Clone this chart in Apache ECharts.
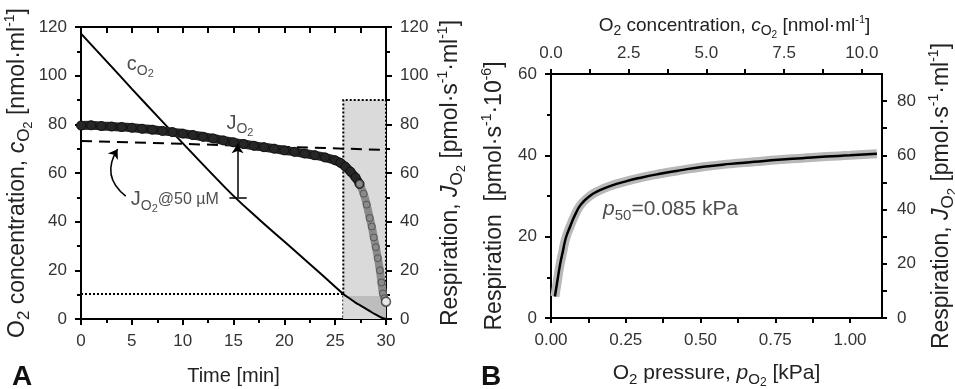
<!DOCTYPE html>
<html>
<head>
<meta charset="utf-8">
<script src="https://cdn.jsdelivr.net/npm/echarts@6/dist/echarts.min.js"></script>
<style>
html, body { margin: 0; padding: 0; background: #fff; }
#main { width: 955px; height: 389px; }
</style>
</head>
<body>
<div id="main"></div>
<script>
var FONT = '"Liberation Sans", Arial, sans-serif';

// panel A: O2 concentration (left axis) and respiration (right axis) vs time
var timeC = [0, 2.5, 5, 7.5, 10, 12.5, 15, 17.5, 20, 22.5, 25, 25.8, 26.5, 27, 27.5, 28, 28.5, 29, 29.5, 29.8, 30];
var cO2 = [117.3, 106, 94.6, 83.4, 72.3, 61.3, 50.6, 41, 31.8, 22.6, 13.3, 10.3, 8.2, 6.7, 5.5, 4.3, 3, 1.8, 0.7, 0.2, 0];

var timeJ = [0, 1, 2, 3, 4, 5, 6, 7, 8, 9, 10, 11, 12, 13, 14, 15, 16, 17, 18, 19, 20,
  21, 22, 23, 24, 25, 25.5, 26, 26.5, 27, 27.4];
var jO2 = [79.5, 79.6, 79.3, 79.1, 78.9, 78.6, 78.2, 77.8, 77.3, 76.8, 76.2, 75.6, 74.9, 74.2, 73.4, 72.6, 71.9, 71.2, 70.6, 70, 69.3,
  68.7, 68, 67.3, 66.4, 65.2, 64.2, 62.6, 60.6, 58.2, 55.5];
var timeJDrop = [27.4, 27.8, 28.1, 28.4, 28.6, 28.8, 29, 29.2, 29.4, 29.55, 29.7, 29.85, 30];
var jO2Drop = [55.5, 51.5, 47, 41.5, 38, 33.5, 29.5, 25, 20, 15, 10.5, 8.5, 7.1];

var j50Time = [0, 30];
var j50Value = [73.2, 69.5];
var thresholdC = 10.3;
var shadeStart = 25.8, shadeEnd = 30, shadeTop = 90, shadeLow = 9.5;

// panel B: respiration vs O2 pressure
var pO2 = [0.013, 0.02, 0.03, 0.04, 0.05, 0.064, 0.08, 0.1, 0.13, 0.16, 0.2, 0.25, 0.3, 0.36, 0.43, 0.51, 0.6, 0.68, 0.76, 0.84, 0.92, 1.0, 1.09];
var respB = [5.3, 8.5, 13, 16.5, 19.8, 22.5, 25.3, 27.9, 30, 31.3, 32.5, 33.6, 34.5, 35.4, 36.3, 37.2, 37.9, 38.4, 38.9, 39.3, 39.7, 40, 40.4];

function pairs(xs, ys) {
  return xs.map(function (x, k) { return [x, ys[k]]; });
}

function richSet(size, color) {
  return {
    n: { fontSize: size, fontFamily: FONT, color: color },
    m: { fontSize: Math.round(size * 0.82), fontFamily: FONT, color: color },
    i: { fontSize: size, fontFamily: FONT, color: color, fontStyle: 'italic' },
    s: { fontSize: Math.round(size * 0.72), fontFamily: FONT, color: color, padding: [Math.round(size * 0.6), 0, 0, 0] },
    ss: { fontSize: Math.round(size * 0.55), fontFamily: FONT, color: color, padding: [Math.round(size * 0.95), 0, 0, 0] },
    p: { fontSize: Math.round(size * 0.6), fontFamily: FONT, color: color, padding: [0, 0, Math.round(size * 0.65), 0] }
  };
}

var nameConc = '{n|O}{s|2}{n| concentration, }{i|c}{s|O}{ss|2}{n| [nmol·ml}{p|-1}{n|]}';
var nameResp = '{n|Respiration, }{i|J}{s|O}{ss|2}{n| [pmol·s}{p|-1}{n|·ml}{p|-1}{n|]}';
var nameRespB = '{n|Respiration  [pmol·s}{p|-1}{n|·10}{p|-6}{n|]}';
var namePress = '{n|O}{s|2}{n| pressure, }{i|p}{s|O}{ss|2}{n| [kPa]}';

var lineBlack = { color: '#000', width: 2 };
var TICK_SIZE = 17;

function nameStyle(size, extra) {
  var s = { fontSize: size, color: '#222', fontFamily: FONT, rich: richSet(size, '#222') };
  for (var k in extra) s[k] = extra[k];
  return s;
}

function axisBase(extra) {
  var a = {
    type: 'value',
    axisLine: { show: true, onZero: false, lineStyle: lineBlack },
    axisTick: { show: true, length: 6, lineStyle: lineBlack },
    splitLine: { show: false },
    axisLabel: { fontSize: TICK_SIZE, color: '#333', fontFamily: FONT, margin: 14 },
    nameLocation: 'middle',
    nameTextStyle: nameStyle(21)
  };
  for (var k in extra) a[k] = extra[k];
  return a;
}

function everyNth(step, digits) {
  return function (v) {
    var r = v / step;
    return Math.abs(r - Math.round(r)) < 1e-6 ? v.toFixed(digits) : '';
  };
}

var chart = echarts.init(document.getElementById('main'));

var option = {
  animation: false,
  backgroundColor: '#fff',
  title: [
    { text: 'A', left: 12, top: 363, padding: 0, textStyle: { fontSize: 28, fontWeight: 'bold', color: '#111', fontFamily: FONT } },
    { text: 'B', left: 481, top: 363, padding: 0, textStyle: { fontSize: 28, fontWeight: 'bold', color: '#111', fontFamily: FONT } }
  ],
  grid: [
    { left: 81, top: 27, width: 305, height: 292, outerBoundsMode: 'none' },
    { left: 551, top: 74, width: 331, height: 244, outerBoundsMode: 'none' }
  ],
  xAxis: [
    axisBase({ gridIndex: 0, position: 'bottom', min: 0, max: 30, interval: 5,
      minorTick: { show: true, splitNumber: 2, length: 4, lineStyle: lineBlack },
      name: 'Time [min]', nameGap: 47, nameTextStyle: nameStyle(20) }),
    axisBase({ gridIndex: 0, position: 'top', min: 0, max: 30, interval: 2.5,
      axisTick: { show: true, inside: true, length: 6, lineStyle: lineBlack },
      axisLabel: { show: false } }),
    axisBase({ gridIndex: 1, position: 'bottom', min: 0, max: 1.107, interval: 0.125,
      axisTick: { show: true, length: 5, lineStyle: lineBlack },
      axisLabel: { fontSize: TICK_SIZE, color: '#333', fontFamily: FONT, margin: 14, showMaxLabel: false, formatter: everyNth(0.25, 2) },
      name: namePress, nameGap: 39, nameTextStyle: nameStyle(21) }),
    axisBase({ gridIndex: 1, position: 'top', min: 0, max: 10.65, interval: 1.25,
      axisTick: { show: true, length: 5, lineStyle: lineBlack },
      axisLabel: { fontSize: TICK_SIZE, color: '#333', fontFamily: FONT, margin: 12, showMaxLabel: false, formatter: everyNth(2.5, 1) },
      name: nameConc, nameGap: 26,
      nameTextStyle: nameStyle(19, { padding: [0, 0, 0, 36] }) })
  ],
  yAxis: [
    axisBase({ gridIndex: 0, position: 'left', min: 0, max: 120, interval: 20,
      minorTick: { show: true, splitNumber: 2, length: 4, lineStyle: lineBlack },
      name: nameConc, nameRotate: 90, nameGap: 45, nameTextStyle: nameStyle(23) }),
    axisBase({ gridIndex: 0, position: 'right', min: 0, max: 120, interval: 20,
      minorTick: { show: true, splitNumber: 2, length: 4, lineStyle: lineBlack },
      name: nameResp, nameRotate: 90, nameGap: 47, nameTextStyle: nameStyle(23) }),
    axisBase({ gridIndex: 1, position: 'left', min: 0, max: 60, interval: 20,
      minorTick: { show: true, splitNumber: 2, length: 4, lineStyle: lineBlack },
      name: nameRespB, nameRotate: 90, nameGap: 42, nameTextStyle: nameStyle(23) }),
    axisBase({ gridIndex: 1, position: 'right', min: 0, max: 90, interval: 10,
      axisTick: { show: true, length: 5, lineStyle: lineBlack },
      axisLabel: { fontSize: TICK_SIZE, color: '#333', fontFamily: FONT, margin: 15, showMaxLabel: false, formatter: everyNth(20, 0) },
      name: nameResp, nameRotate: 90, nameGap: 42, nameTextStyle: nameStyle(23) })
  ],
  series: [
    // shaded anoxia window
    {
      type: 'line', xAxisIndex: 0, yAxisIndex: 0, z: 1, symbol: 'none',
      lineStyle: { width: 0 }, data: [[shadeStart, 0]],
      markArea: {
        silent: true,
        data: [
          [{ xAxis: shadeStart, yAxis: 0, itemStyle: { color: '#dadada', borderColor: '#000', borderWidth: 2, borderType: 'dotted' } },
           { xAxis: shadeEnd, yAxis: shadeTop }],
          [{ xAxis: shadeStart, yAxis: 0, itemStyle: { color: '#bdbdbd', borderWidth: 0 } },
           { xAxis: shadeEnd, yAxis: shadeLow }]
        ]
      }
    },
    {
      type: 'line', xAxisIndex: 0, yAxisIndex: 0, z: 2, symbol: 'none', smooth: true,
      lineStyle: { width: 0 }, areaStyle: { color: '#dadada', opacity: 1 },
      data: pairs(timeC, cO2).filter(function (d) { return d[0] >= shadeStart; })
    },
    {
      type: 'line', xAxisIndex: 0, yAxisIndex: 0, z: 3, symbol: 'none',
      lineStyle: { color: '#000', width: 2, type: 'dotted' },
      data: [[0, thresholdC], [shadeStart, thresholdC]]
    },
    {
      name: 'cO2', type: 'line', xAxisIndex: 0, yAxisIndex: 0, z: 4, symbol: 'none', smooth: true,
      lineStyle: { color: '#000', width: 2 },
      data: pairs(timeC, cO2)
    },
    {
      type: 'line', xAxisIndex: 0, yAxisIndex: 1, z: 4, symbol: 'none',
      lineStyle: { color: '#000', width: 2, type: [11, 7] },
      data: pairs(j50Time, j50Value)
    },
    {
      name: 'JO2', type: 'line', xAxisIndex: 0, yAxisIndex: 1, z: 5, smooth: true,
      symbol: 'circle', symbolSize: 9, showAllSymbol: true,
      itemStyle: { color: '#262626', borderColor: '#111', borderWidth: 1 },
      lineStyle: { color: '#262626', width: 9 },
      data: pairs(timeJ, jO2)
    },
    {
      type: 'line', xAxisIndex: 0, yAxisIndex: 1, z: 5, smooth: true,
      symbol: 'circle', symbolSize: 7, showAllSymbol: true,
      itemStyle: { color: '#8a8a8a', borderColor: '#555', borderWidth: 1 },
      lineStyle: { color: '#8a8a8a', width: 8 },
      data: pairs(timeJDrop, jO2Drop)
    },
    {
      type: 'scatter', xAxisIndex: 0, yAxisIndex: 1, z: 6, symbolSize: 9,
      itemStyle: { color: '#fff', borderColor: '#333', borderWidth: 1.5 },
      data: [[timeJDrop[timeJDrop.length - 1], jO2Drop[jO2Drop.length - 1]]]
    },
    {
      type: 'lines', coordinateSystem: 'cartesian2d', xAxisIndex: 0, yAxisIndex: 1, z: 6,
      symbol: ['none', 'arrow'], symbolSize: 9,
      lineStyle: { color: '#000', width: 1.5, opacity: 1 },
      data: [
        { coords: [[15.4, 50], [15.4, 71.8]] },
        { coords: [[4.4, 50.5], [3.6, 69.8]], lineStyle: { curveness: 0.45 } }
      ]
    },
    {
      type: 'lines', coordinateSystem: 'cartesian2d', xAxisIndex: 0, yAxisIndex: 1, z: 6,
      symbol: ['none', 'none'],
      lineStyle: { color: '#000', width: 1.5, opacity: 1 },
      data: [{ coords: [[14.6, 50], [16.3, 50]] }]
    },
    {
      type: 'scatter', xAxisIndex: 0, yAxisIndex: 1, z: 7, symbolSize: 0, silent: true,
      label: {
        show: true, position: 'right', distance: 0,
        formatter: function (p) { return p.data[2]; },
        rich: richSet(20, '#222')
      },
      data: [
        [4.5, 104.5, '{n|c}{s|O}{ss|2}'],
        [14.3, 80.5, '{n|J}{s|O}{ss|2}'],
        [4.9, 49, '{n|J}{s|O}{ss|2}{m|@50 µM}']
      ]
    },
    // panel B
    {
      type: 'line', xAxisIndex: 2, yAxisIndex: 2, z: 3, symbol: 'none', smooth: true,
      lineStyle: { color: '#b8b8b8', width: 9 },
      data: pairs(pO2, respB)
    },
    {
      type: 'line', xAxisIndex: 2, yAxisIndex: 2, z: 4, symbol: 'none', smooth: true,
      lineStyle: { color: '#000', width: 2.5 },
      data: pairs(pO2, respB)
    },
    {
      type: 'scatter', xAxisIndex: 2, yAxisIndex: 2, z: 7, symbolSize: 0, silent: true,
      label: {
        show: true, position: 'right', distance: 0,
        formatter: function (p) { return p.data[2]; },
        rich: richSet(21, '#222')
      },
      data: [[0.174, 26.8, '{i|p}{s|50}{n|=0.085 kPa}']]
    }
  ]
};

chart.setOption(option);
</script>
</body>
</html>
